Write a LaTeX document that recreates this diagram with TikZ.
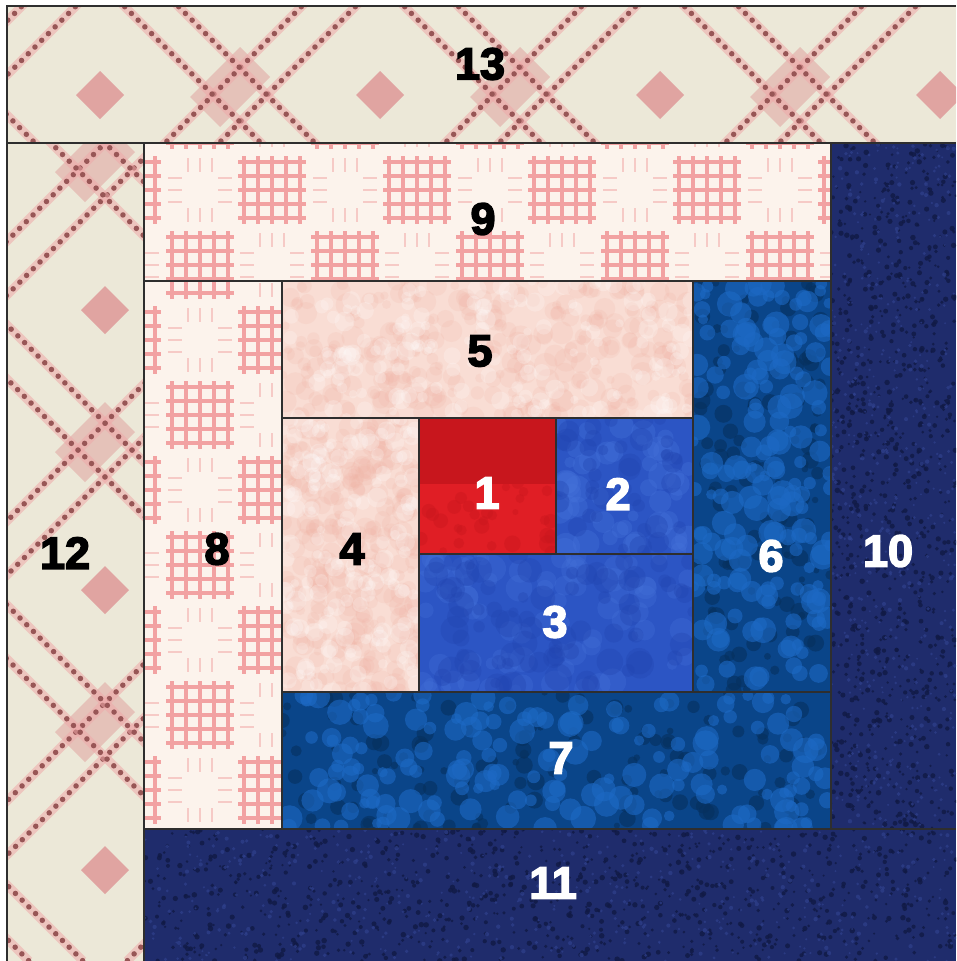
\documentclass[tikz,border=0pt]{standalone}
\usepackage{fontspec}
\setmainfont{Liberation Sans}
\newfontfamily\labfont[BoldFeatures={FakeBold=3.5}]{Liberation Sans}
\definecolor{cream}{HTML}{ECE8D8}
\definecolor{maroonc}{HTML}{985656}
\definecolor{pinkdot}{HTML}{EFA9A9}
\definecolor{pinkpatch}{HTML}{DE9494}
\definecolor{shirt}{HTML}{FCF3EC}
\definecolor{gridpink}{HTML}{F2A2A2}
\definecolor{blush}{HTML}{F9DDD4}
\definecolor{blushdark}{HTML}{EFAE9E}
\definecolor{medblue}{HTML}{0A4589}
\definecolor{flower}{HTML}{1D69C4}
\definecolor{deepblue}{HTML}{06305E}
\definecolor{navy}{HTML}{1F2C6C}
\definecolor{navydark}{HTML}{111A45}
\definecolor{navylight}{HTML}{2F408C}
\definecolor{redtop}{HTML}{C8161D}
\definecolor{redbot}{HTML}{E01E25}
\definecolor{royal}{HTML}{2C55C4}
\definecolor{royallight}{HTML}{4572DA}
\definecolor{royaldark}{HTML}{2245B0}
\definecolor{seam}{HTML}{2E2E2E}
\tikzset{
  dotline/.style={draw=maroonc,line width=5.5pt,dash pattern=on 0pt off 9.5pt,line cap=round},
  haloline/.style={draw=pinkdot,line width=9pt,opacity=0.55},
  gridline/.style={draw=gridpink,line width=3.6pt},
  faintdash/.style={draw=gridpink,line width=2pt,opacity=0.5},
  seamline/.style={draw=seam,line width=1.3pt},
  lab/.style={inner sep=0pt,font=\labfont\bfseries\fontsize{45}{45}\selectfont},
  darklab/.style={lab,text=black},
  lightlab/.style={lab,text=white}
}
\newcommand\speckle[9]{%
  \foreach \i in {1,...,#5}{%
    \pgfmathsetmacro\sx{#1+rnd*(#3-#1)}%
    \pgfmathsetmacro\sy{#2+rnd*(#4-#2)}%
    \pgfmathsetmacro\sr{#7+rnd*(#8-#7)}%
    \fill[#6,opacity=#9] (\sx,\sy) circle[radius=\sr pt];}}
\newcommand\gridpatch[2]{%
  \foreach \k in {-2,...,2}{%
    \draw[gridline] (#1+14*\k,#2-34) -- (#1+14*\k,#2+34);
    \draw[gridline] (#1-34,#2+14*\k) -- (#1+34,#2+14*\k);}}
\newcommand\dashcluster[2]{%
  \foreach \k in {-1,0,1}{%
    \draw[faintdash] (#1-32,#2+12*\k) -- (#1-18,#2+12*\k);
    \draw[faintdash] (#1+18,#2+12*\k) -- (#1+32,#2+12*\k);
    \draw[faintdash] (#1+12*\k,#2-32) -- (#1+12*\k,#2-18);
    \draw[faintdash] (#1+12*\k,#2+18) -- (#1+12*\k,#2+32);}}
% lattice: x1 y1 x2 y2 phase-u phase-v
\newcommand\lattice[6]{%
  \begin{scope}
    \clip (#1,#2) rectangle (#3,#4);
    \fill[cream] (#1,#2) rectangle (#3,#4);
    \foreach \a in {-1,...,8}{\foreach \b in {-5,...,4}{%
      \pgfmathsetmacro\cu{280*\a+#5}\pgfmathsetmacro\cv{280*\b+#6}%
      \pgfmathsetmacro\cx{(\cu+\cv)/2}\pgfmathsetmacro\cy{(\cu-\cv)/2}%
      \fill[pinkpatch,opacity=0.8] (\cx,\cy-24) -- (\cx+24,\cy) -- (\cx,\cy+24) -- (\cx-24,\cy) -- cycle;
      \pgfmathsetmacro\px{(\cu+\cv+280)/2}\pgfmathsetmacro\py{(\cu-\cv)/2}%
      \fill[pinkpatch,opacity=0.45] (\px,\py-48) -- (\px+30,\py-18) -- (\px-20,\py+32) -- (\px-50,\py+2) -- cycle;
    }}
    \foreach \a in {-1,...,8}{%
      \pgfmathsetmacro\la{280*\a+#5+113}\pgfmathsetmacro\lb{280*\a+#5+167}%
      \draw[haloline] (\la,0) -- ++(-961,961);
      \draw[haloline] (\lb,0) -- ++(-961,961);
      \draw[dotline] (\la,0) -- ++(-961,961);
      \draw[dotline] (\lb,0) -- ++(-961,961);}
    \foreach \b in {-5,...,4}{%
      \pgfmathsetmacro\la{280*\b+#6+113}\pgfmathsetmacro\lb{280*\b+#6+167}%
      \draw[haloline] (\la,0) -- ++(961,961);
      \draw[haloline] (\lb,0) -- ++(961,961);
      \draw[dotline] (\la,0) -- ++(961,961);
      \draw[dotline] (\lb,0) -- ++(961,961);}
  \end{scope}}
\newcommand\shirting[4]{%
  \begin{scope}
    \clip (#1,#2) rectangle (#3,#4);
    \fill[shirt] (#1,#2) rectangle (#3,#4);
    \foreach \i in {-1,...,5}{\foreach \j in {0,...,5}{%
      \pgfmathsetmacro\ga{200+145*\i}\pgfmathsetmacro\gb{115+150*\j}%
      \gridpatch{\ga}{\gb}%
      \pgfmathsetmacro\gc{272+145*\i}\pgfmathsetmacro\gd{190+150*\j}%
      \gridpatch{\gc}{\gd}%
      \dashcluster{\gc}{\gb}%
      \dashcluster{\ga}{\gd}%
    }}
  \end{scope}}
\newcommand\mottle[4]{%
  \begin{scope}
    \clip (#1,#2) rectangle (#3,#4);
    \fill[blush] (#1,#2) rectangle (#3,#4);
    \speckle{#1}{#2}{#3}{#4}{300}{blushdark}{4}{12}{0.16}
    \speckle{#1}{#2}{#3}{#4}{160}{white}{4}{10}{0.22}
  \end{scope}}
\newcommand\floral[4]{%
  \begin{scope}
    \clip (#1,#2) rectangle (#3,#4);
    \fill[medblue] (#1,#2) rectangle (#3,#4);
    \speckle{#1}{#2}{#3}{#4}{130}{deepblue}{3}{9}{0.6}
    \speckle{#1}{#2}{#3}{#4}{170}{flower}{5}{13}{0.6}
  \end{scope}}
\newcommand\textured[4]{%
  \begin{scope}
    \clip (#1,#2) rectangle (#3,#4);
    \fill[navy] (#1,#2) rectangle (#3,#4);
    \speckle{#1}{#2}{#3}{#4}{900}{navydark}{1.2}{2.8}{0.8}
    \speckle{#1}{#2}{#3}{#4}{500}{navylight}{1}{2.2}{0.7}
  \end{scope}}
\begin{document}
\begin{tikzpicture}[x=1pt,y=-1pt]
\pgfmathsetseed{7}
\useasboundingbox (0,0) rectangle (956,961);
\fill[white] (0,0) rectangle (956,961);
% borders
\lattice{7}{6}{956}{143}{195}{5}
\lattice{7}{143}{144}{961}{135}{75}
\shirting{144}{143}{831}{281}
\shirting{144}{281}{282}{829}
\textured{831}{143}{956}{829}
\textured{144}{829}{956}{961}
\mottle{282}{281}{693}{418}
\mottle{282}{418}{419}{692}
\floral{693}{281}{831}{692}
\floral{282}{692}{831}{829}
% centre
\begin{scope}
  \clip (419,418) rectangle (556,554);
  \fill[redbot] (419,418) rectangle (556,554);
  \fill[redtop] (419,418) rectangle (556,484);
  \speckle{419}{418}{556}{554}{60}{redtop}{3}{9}{0.4}
\end{scope}
\begin{scope}
  \clip (556,418) rectangle (693,554);
  \fill[royal] (556,418) rectangle (693,554);
  \speckle{556}{418}{693}{554}{50}{royallight}{5}{14}{0.35}
  \speckle{556}{418}{693}{554}{40}{royaldark}{5}{12}{0.35}
\end{scope}
\begin{scope}
  \clip (419,554) rectangle (693,692);
  \fill[royal] (419,554) rectangle (693,692);
  \speckle{419}{554}{693}{692}{80}{royallight}{5}{14}{0.3}
  \speckle{419}{554}{693}{692}{80}{royaldark}{5}{14}{0.35}
\end{scope}
% seams
\draw[seamline] (7,961) -- (7,6) -- (956,6);
\draw[seamline] (7,143) -- (956,143);
\draw[seamline] (144,143) -- (144,961);
\draw[seamline] (144,281) -- (831,281);
\draw[seamline] (831,143) -- (831,829);
\draw[seamline] (144,829) -- (956,829);
\draw[seamline] (282,281) -- (282,829);
\draw[seamline] (693,281) -- (693,692);
\draw[seamline] (282,418) -- (693,418);
\draw[seamline] (282,692) -- (831,692);
\draw[seamline] (419,418) -- (419,692);
\draw[seamline] (556,418) -- (556,554);
\draw[seamline] (419,554) -- (693,554);
% labels
\node[darklab] (l13) at (480,64) {13};
\node[darklab] (l9) at (483,219) {9};
\node[darklab] (l12) at (65,553) {12};
\node[darklab] (l8) at (217,549) {8};
\node[darklab] (l4) at (352,549) {4};
\node[darklab] (l5) at (480,351) {5};
\node[lightlab] (l1) at (487,493) {1};
\node[lightlab] (l2) at (618,494) {2};
\node[lightlab] (l3) at (555,622) {3};
\node[lightlab] (l6) at (771,556) {6};
\node[lightlab] (l10) at (888,551) {10};
\node[lightlab] (l7) at (561,758) {7};
\node[lightlab] (l11) at (553,883) {11};
\end{tikzpicture}
\end{document}
